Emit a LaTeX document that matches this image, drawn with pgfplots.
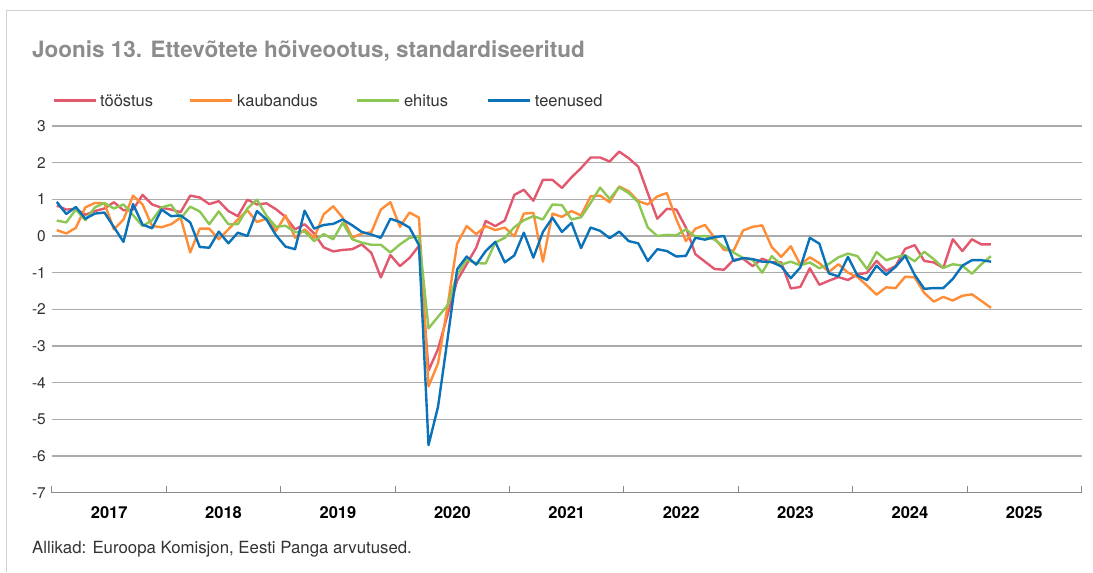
\documentclass[border=0pt]{standalone}
\usepackage{pgfplots}
\pgfplotsset{compat=1.18}
\usepackage{pgfplotstable}
\usepackage{fontspec}
\setmainfont{TeX Gyre Heros}
\definecolor{cT}{HTML}{E2586E}
\definecolor{cK}{HTML}{FF8C36}
\definecolor{cE}{HTML}{8DC753}
\definecolor{cS}{HTML}{0A72B8}
\definecolor{gridc}{HTML}{ABABAB}
\definecolor{axisc}{HTML}{8A8A8A}
\definecolor{titlec}{HTML}{8C8C8C}
\definecolor{framec}{HTML}{CFCFCF}
\definecolor{txtc}{HTML}{333333}

% m = month index (0 = Jan 2017); t = toostus, k = kaubandus, e = ehitus, s = teenused
\pgfplotstableread{
m t k e s
0 0.83 0.16 0.42 0.93
1 0.72 0.07 0.37 0.60
2 0.74 0.22 0.72 0.79
3 0.58 0.78 0.43 0.47
4 0.68 0.90 0.78 0.61
5 0.75 0.89 0.90 0.64
6 0.92 0.18 0.75 0.24
7 0.70 0.45 0.86 -0.16
8 0.72 1.10 0.57 0.87
9 1.12 0.86 0.27 0.31
10 0.86 0.27 0.43 0.21
11 0.77 0.24 0.78 0.72
12 0.72 0.32 0.85 0.54
13 0.65 0.50 0.48 0.56
14 1.10 -0.45 0.80 0.37
15 1.05 0.20 0.67 -0.30
16 0.87 0.20 0.32 -0.32
17 0.95 -0.09 0.67 0.12
18 0.68 0.18 0.32 -0.20
19 0.54 0.45 0.32 0.09
20 0.99 0.70 0.75 0.00
21 0.86 0.38 0.99 0.68
22 0.89 0.47 0.55 0.45
23 0.73 0.14 0.25 0.02
24 0.52 0.56 0.28 -0.29
25 0.18 -0.05 0.10 -0.36
26 0.32 0.18 0.12 0.69
27 0.07 -0.05 -0.14 0.20
28 -0.31 0.59 0.05 0.30
29 -0.42 0.81 -0.09 0.33
30 -0.38 0.50 0.36 0.45
31 -0.36 -0.05 -0.09 0.29
32 -0.23 0.07 -0.18 0.11
33 -0.46 0.10 -0.24 0.04
34 -1.13 0.72 -0.24 -0.05
35 -0.52 0.92 -0.45 0.47
36 -0.82 0.25 -0.23 0.38
37 -0.60 0.64 -0.05 0.23
38 -0.27 0.50 -0.01 -0.25
39 -3.67 -4.10 -2.52 -5.70
40 -3.08 -3.47 -2.20 -4.65
41 -2.15 -1.90 -1.89 -2.80
42 -1.22 -0.21 -1.06 -0.91
43 -0.77 0.27 -0.65 -0.56
44 -0.32 0.05 -0.74 -0.78
45 0.41 0.27 -0.75 -0.41
46 0.27 0.16 -0.18 -0.16
47 0.42 0.23 -0.05 -0.72
48 1.12 -0.01 0.24 -0.53
49 1.26 0.61 0.43 0.09
50 0.96 0.63 0.54 -0.59
51 1.53 -0.70 0.45 0.11
52 1.53 0.61 0.86 0.50
53 1.31 0.52 0.84 0.11
54 1.60 0.68 0.45 0.36
55 1.85 0.56 0.51 -0.33
56 2.14 1.08 0.90 0.23
57 2.14 1.10 1.32 0.14
58 2.03 0.92 1.01 -0.06
59 2.30 1.35 1.33 0.12
60 2.12 1.22 1.17 -0.14
61 1.89 0.95 0.92 -0.20
62 1.17 0.86 0.23 -0.68
63 0.47 1.08 0.00 -0.36
64 0.74 1.17 0.03 -0.41
65 0.72 0.45 0.02 -0.56
66 0.23 -0.14 0.18 -0.54
67 -0.50 0.20 -0.02 -0.05
68 -0.70 0.30 0.00 -0.10
69 -0.90 -0.05 -0.10 -0.03
70 -0.92 -0.38 -0.30 0.00
71 -0.65 -0.40 -0.45 -0.68
72 -0.62 0.15 -0.60 -0.60
73 -0.82 0.25 -0.65 -0.63
74 -0.62 0.29 -1.00 -0.70
75 -0.72 -0.30 -0.55 -0.71
76 -0.72 -0.57 -0.78 -0.83
77 -1.43 -0.28 -0.70 -1.15
78 -1.39 -0.78 -0.80 -0.86
79 -0.88 -0.58 -0.72 -0.05
80 -1.33 -0.74 -0.88 -0.21
81 -1.22 -0.98 -0.76 -1.02
82 -1.12 -0.77 -0.58 -1.10
83 -1.20 -1.00 -0.48 -0.57
84 -1.05 -1.12 -0.55 -1.08
85 -1.00 -1.35 -0.90 -1.20
86 -0.68 -1.60 -0.44 -0.81
87 -0.95 -1.40 -0.66 -1.06
88 -0.82 -1.42 -0.58 -0.84
89 -0.35 -1.11 -0.52 -0.54
90 -0.25 -1.13 -0.69 -1.06
91 -0.68 -1.55 -0.43 -1.44
92 -0.72 -1.79 -0.63 -1.42
93 -0.87 -1.66 -0.87 -1.42
94 -0.09 -1.76 -0.77 -1.17
95 -0.41 -1.63 -0.81 -0.81
96 -0.09 -1.59 -1.03 -0.66
97 -0.23 -1.77 -0.77 -0.66
98 -0.23 -1.96 -0.55 -0.70
}\data

\begin{document}
\begin{tikzpicture}[x=1pt,y=1pt]
\path (0,0) rectangle (1093,572);
\draw[framec, line width=1pt] (7,0) -- (7,561) -- (1093,561);
\node[anchor=base west, inner sep=0, text=titlec, font=\fontsize{22.5}{26}\selectfont\bfseries] at (32,514) {Joonis 13. Ettevõtete hõiveootus, standardiseeritud};
\tikzset{lg/.style={anchor=base west, inner sep=0, text=txtc, font=\fontsize{16.5}{19}\selectfont}}
\draw[cT, line width=3pt] (54,471) -- (96,471);
\node[lg] at (100,465) {tööstus};
\draw[cK, line width=3pt] (190,471) -- (232,471);
\node[lg] at (237,465) {kaubandus};
\draw[cE, line width=3pt] (357,471) -- (399,471);
\node[lg] at (404,465) {ehitus};
\draw[cS, line width=3pt] (488,471) -- (530,471);
\node[lg] at (535,465) {teenused};
\node[anchor=base west, inner sep=0, text=txtc, font=\fontsize{16.8}{19}\selectfont] at (32,18) {Allikad: Euroopa Komisjon, Eesti Panga arvutused.};
\begin{axis}[
  at={(52pt,79pt)}, anchor=south west,
  scale only axis, width=1030pt, height=367pt,
  xmin=-0.5, xmax=107.5, ymin=-7, ymax=3,
  axis x line*=bottom, axis y line*=left,
  x axis line style={draw=axisc, line width=1.2pt, -},
  y axis line style={draw=none},
  ytick={-7,-6,-5,-4,-3,-2,-1,0,1,2,3},
  yticklabels={-7,-6,-5,-4,-3,-2,-1,0,1,2,3},
  ytick style={draw=none},
  yticklabel style={font=\fontsize{15.5}{18}\selectfont, text=txtc, inner sep=0pt, xshift=-6pt},
  ymajorgrids, grid style={gridc, line width=1.3pt},
  xtick={5.5,17.5,29.5,41.5,53.5,65.5,77.5,89.5,101.5},
  xticklabels={2017,2018,2019,2020,2021,2022,2023,2024,2025},
  major tick length=0pt,
  minor xtick={-0.5,11.5,23.5,35.5,47.5,59.5,71.5,83.5,95.5,107.5},
  minor tick length=7pt, tick align=inside,
  minor x tick style={draw=axisc, line width=1pt},
  xticklabel style={font=\fontsize{16.5}{19}\selectfont\bfseries, text=black, anchor=base, yshift=-26pt},
  clip=false,
  every axis plot/.append style={line width=2.4pt, line join=round, no marks},
]
\addplot[cT] table[x=m, y=t] {\data};
\addplot[cK] table[x=m, y=k] {\data};
\addplot[cE] table[x=m, y=e] {\data};
\addplot[cS] table[x=m, y=s] {\data};
\end{axis}
\end{tikzpicture}
\end{document}
